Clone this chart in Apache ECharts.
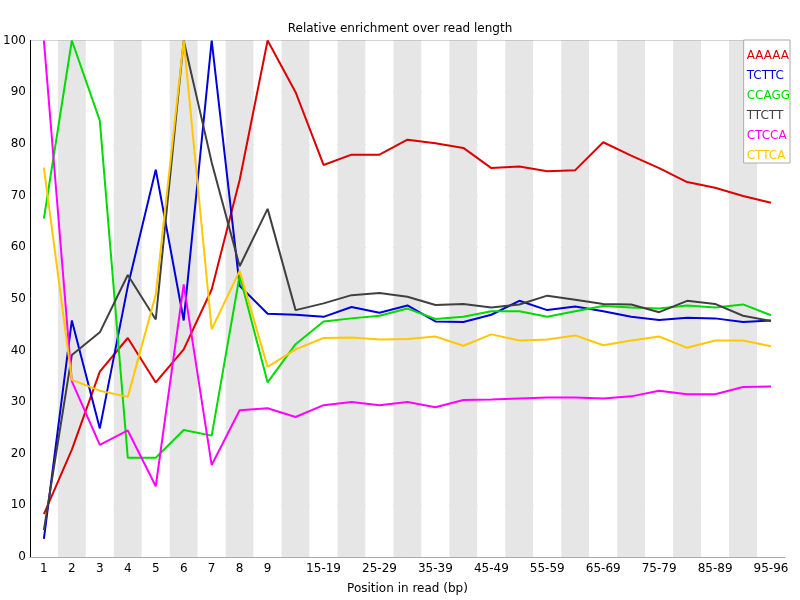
<!DOCTYPE html>
<html>
<head>
<meta charset="utf-8">
<script src="https://cdn.jsdelivr.net/npm/echarts@6/dist/echarts.min.js"></script>
<style>html,body{margin:0;padding:0;background:#fff}#c{width:800px;height:600px}</style>
</head>
<body>
<div id="c"></div>
<script>
const categories = ['1','2','3','4','5','6','7','8','9','10-14','15-19','20-24','25-29','30-34','35-39','40-44','45-49','50-54','55-59','60-64','65-69','70-74','75-79','80-84','85-89','90-94','95-96'];
const yTicks = [0,10,20,30,40,50,60,70,80,90,100];
const seriesNames = ['AAAAA','TCTTC','CCAGG','TTCTT','CTCCA','CTTCA'];
const aaaaa = [8.3,20.8,35.9,42.4,33.8,40.2,51.8,73,100,90,75.9,77.9,77.9,80.8,80.1,79.2,75.3,75.6,74.7,74.9,80.3,77.7,75.3,72.6,71.5,69.9,68.6];
const tcttc = [3.5,45.8,24.9,52.4,75,45.8,100,52.5,47.1,46.9,46.5,48.4,47.3,48.7,45.6,45.5,46.9,49.6,47.8,48.5,47.6,46.5,45.9,46.3,46.2,45.5,45.8];
const ccagg = [65.5,100,84.5,19.2,19.2,24.6,23.5,54.5,33.8,41.2,45.6,46.2,46.7,48.1,46.1,46.5,47.6,47.6,46.5,47.6,48.6,48.3,48.1,48.7,48.3,48.9,46.8];
const ttctt = [5.2,39.1,43.5,54.6,46,100,76.4,56.3,67.4,47.8,49.1,50.7,51.1,50.4,48.8,49,48.3,48.9,50.6,49.8,49,48.9,47.4,49.6,49,46.7,45.7];
const ctcca = [100,34,21.7,24.5,13.7,52.8,17.8,28.4,28.8,27.1,29.4,30,29.4,30,29,30.4,30.5,30.7,30.9,30.9,30.7,31.1,32.2,31.5,31.5,32.9,33];
const cttca = [75.4,34.3,32.2,31,50.8,100,44.1,55.4,36.8,40.2,42.4,42.5,42.1,42.2,42.7,40.9,43.1,41.9,42.1,42.9,41,41.9,42.7,40.5,41.9,41.9,40.8];

const values = [aaaaa, tcttc, ccagg, ttctt, ctcca, cttca];
const colors = ['#dc0000','#0000dc','#00dc00','#404040','#ff00ff','#ffc800'];
const FONT = 'DejaVu Sans';

const chart = echarts.init(document.getElementById('c'), null, {renderer:'canvas'});
chart.setOption({
  animation: false,
  backgroundColor: '#fff',
  textStyle: {fontFamily: FONT},
  title: {
    text: 'Relative enrichment over read length',
    left: 'center', top: 18,
    textStyle: {fontFamily: FONT, fontSize: 12, fontWeight: 'normal', color: '#000'}
  },
  legend: {
    orient: 'vertical',
    right: 10, top: 40,
    icon: 'none',
    itemWidth: 0, itemHeight: 14, itemGap: 6,
    padding: [9, 0, 0, -2],
    backgroundColor: '#fff',
    borderColor: '#aaaaaa', borderWidth: 1,
    selectedMode: false,
    data: seriesNames.map((n, i) => ({name: n, textStyle: {color: colors[i]}})),
    textStyle: {fontFamily: FONT, fontSize: 12, lineHeight: 14}
  },
  grid: {left: 29, right: 15, top: 40.5, bottom: 40, containLabel: false},
  xAxis: {
    type: 'category',
    data: categories,
    name: 'Position in read (bp)',
    nameLocation: 'middle',
    nameGap: 26,
    nameTextStyle: {fontFamily: FONT, fontSize: 12, color: '#000'},
    axisLine: {show: true, lineStyle: {color: '#aaaaaa', width: 1}},
    axisTick: {show: false, interval: 0},
    axisLabel: {
      color: '#000', fontFamily: FONT, fontSize: 12, margin: 6,
      interval: (idx) => idx < 9 || (idx >= 10 && (idx - 10) % 2 === 0)
    },
    splitLine: {show: false},
    splitArea: {show: true, interval: 0, areaStyle: {color: ['#ffffff', '#e6e6e6']}}
  },
  yAxis: {
    type: 'value',
    min: yTicks[0], max: yTicks[yTicks.length - 1], interval: 10,
    axisLine: {show: true, lineStyle: {color: '#000', width: 1}},
    axisTick: {show: false},
    axisLabel: {color: '#000', fontFamily: FONT, fontSize: 12, margin: 4},
    splitLine: {show: true, lineStyle: {color: '#aaaaaa', width: 1}}
  },
  series: seriesNames.map((n, i) => ({
    name: n,
    type: 'line',
    data: values[i],
    symbol: 'none',
    clip: false,
    color: colors[i],
    lineStyle: {width: 2, color: colors[i]},
    z: 2 + i
  }))
});
</script>
</body>
</html>
